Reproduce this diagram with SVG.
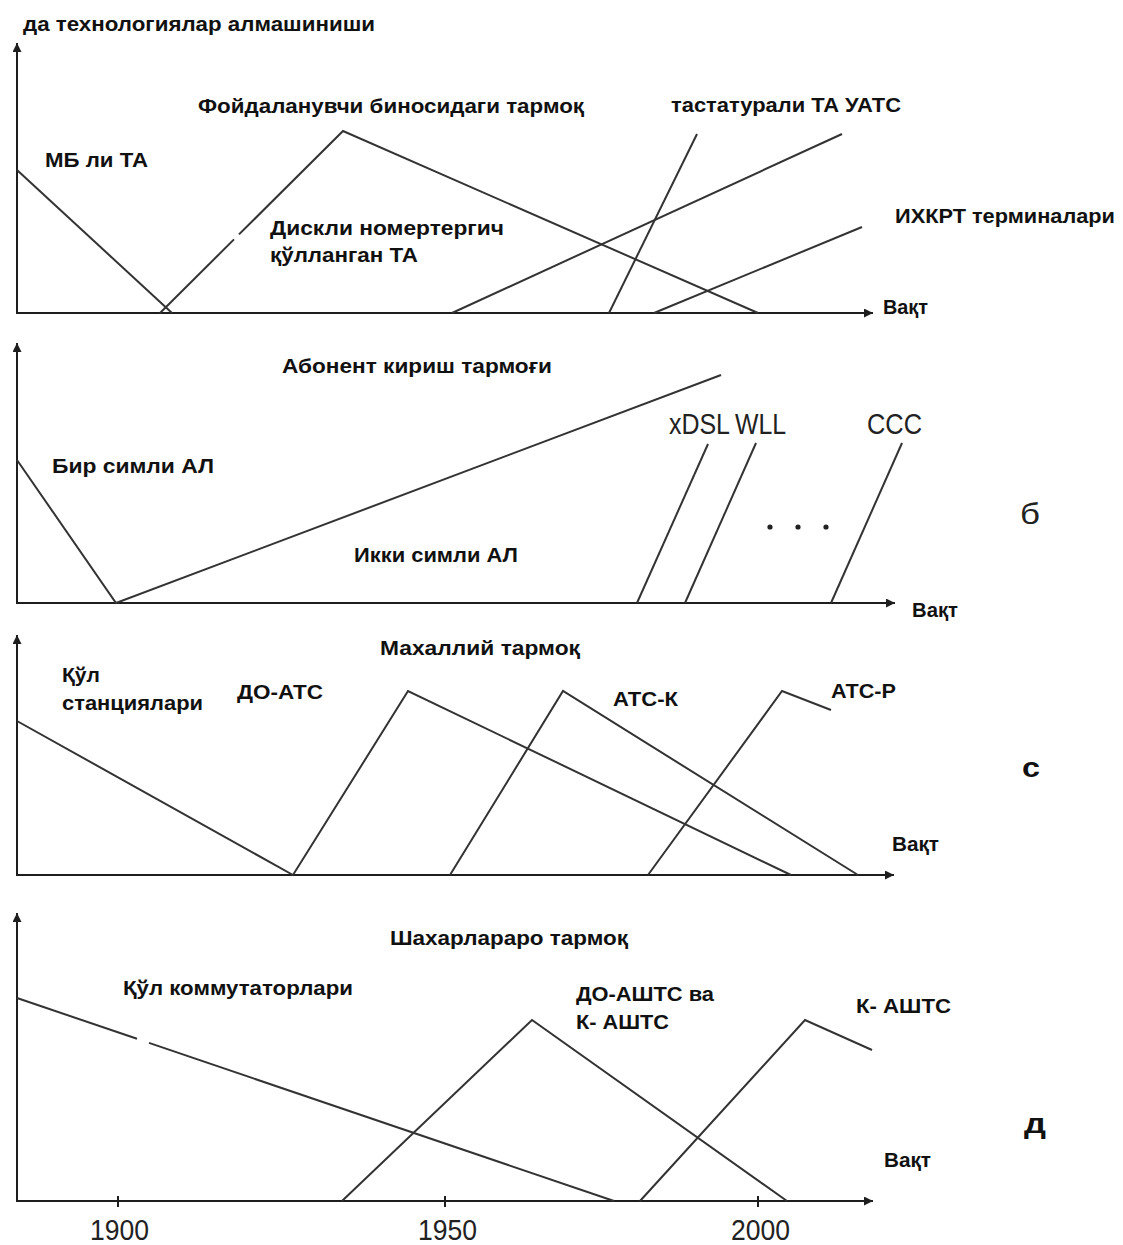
<svg xmlns="http://www.w3.org/2000/svg" width="1123" height="1245" viewBox="0 0 1123 1245">
<style>
.ax{stroke:#1e1e1e;stroke-width:2;fill:none}
.ln{stroke:#333;stroke-width:2;fill:none;stroke-linecap:butt}
.lb{font-family:"Liberation Sans",Arial,sans-serif;font-weight:bold;font-size:20px;fill:#111}
.nr{font-family:"Liberation Sans",Arial,sans-serif;font-weight:normal;font-size:29px;fill:#222}
.big{font-family:"Liberation Sans",Arial,sans-serif;font-weight:bold;font-size:28px;fill:#111}
</style>
<defs>
<marker id="arr" viewBox="0 0 10 10" refX="10" refY="5" markerWidth="12" markerHeight="9" markerUnits="userSpaceOnUse" orient="auto"><path d="M0,0 L10,5 L0,10 z" fill="#1e1e1e"/></marker>
</defs>
<rect width="1123" height="1245" fill="#fff"/>

<g id="panel-a">
<text class="lb" x="23" y="31" textLength="352" lengthAdjust="spacingAndGlyphs">да технологиялар алмашиниши</text>
<line class="ax" x1="17" y1="314" x2="17" y2="43" marker-end="url(#arr)"/>
<line class="ax" x1="16" y1="313" x2="873" y2="313" marker-end="url(#arr)"/>
<g id="a-lines">
<line class="ln" x1="17" y1="170" x2="172" y2="313"/>
<polyline class="ln" points="160,313 234,239.4"/>
<polyline class="ln" points="239,234.4 343,131 758,313"/>
<line class="ln" x1="452" y1="313" x2="842" y2="134"/>
<line class="ln" x1="609" y1="313" x2="697" y2="134"/>
<line class="ln" x1="654" y1="313" x2="862" y2="227"/>
</g>
<text class="lb" x="45" y="167" textLength="103" lengthAdjust="spacingAndGlyphs">МБ ли ТА</text>
<text class="lb" x="198" y="113" textLength="386" lengthAdjust="spacingAndGlyphs">Фойдаланувчи биносидаги тармоқ</text>
<text class="lb" x="270" y="235" textLength="234" lengthAdjust="spacingAndGlyphs">Дискли номертергич</text>
<text class="lb" x="270" y="262" textLength="148" lengthAdjust="spacingAndGlyphs">қўлланган ТА</text>
<text class="lb" x="671" y="112" textLength="230" lengthAdjust="spacingAndGlyphs">тастатурали ТА УАТС</text>
<text class="lb" x="895" y="223" textLength="220" lengthAdjust="spacingAndGlyphs">ИХКРТ терминалари</text>
<text class="lb" x="883" y="314" textLength="45" lengthAdjust="spacingAndGlyphs">Вақт</text>
</g>

<g id="panel-b">
<line class="ax" x1="17" y1="604" x2="17" y2="343" marker-end="url(#arr)"/>
<line class="ax" x1="16" y1="603" x2="895" y2="603" marker-end="url(#arr)"/>
<g id="b-lines">
<polyline class="ln" points="17,460 116,603 721,375"/>
<line class="ln" x1="637" y1="603" x2="708" y2="444"/>
<line class="ln" x1="685" y1="603" x2="756" y2="443"/>
<line class="ln" x1="831" y1="603" x2="902" y2="443"/>
</g>
<g id="b-dots" fill="#222">
<circle cx="770" cy="527" r="2.6"/>
<circle cx="798" cy="527" r="2.6"/>
<circle cx="826" cy="527" r="2.6"/>
</g>
<text class="lb" x="282" y="373" textLength="270" lengthAdjust="spacingAndGlyphs">Абонент кириш тармоғи</text>
<text class="lb" x="52" y="473" textLength="162" lengthAdjust="spacingAndGlyphs">Бир симли АЛ</text>
<text class="lb" x="354" y="562" textLength="164" lengthAdjust="spacingAndGlyphs">Икки симли АЛ</text>
<text class="nr" x="669" y="434" textLength="61" lengthAdjust="spacingAndGlyphs">xDSL</text>
<text class="nr" x="735" y="434" textLength="51" lengthAdjust="spacingAndGlyphs">WLL</text>
<text class="nr" x="867" y="434" textLength="55" lengthAdjust="spacingAndGlyphs">CCC</text>
<text class="nr" x="1020" y="524" font-size="34" textLength="20" lengthAdjust="spacingAndGlyphs">б</text>
<text class="lb" x="912" y="617" textLength="46" lengthAdjust="spacingAndGlyphs">Вақт</text>
</g>

<g id="panel-c">
<line class="ax" x1="17" y1="876" x2="17" y2="635" marker-end="url(#arr)"/>
<line class="ax" x1="16" y1="875" x2="894" y2="875" marker-end="url(#arr)"/>
<g id="c-lines">
<polyline class="ln" points="17,721 293,875 408,691 791,875"/>
<polyline class="ln" points="450,875 563,691 858,875"/>
<polyline class="ln" points="648,875 782,691 831,710"/>
</g>
<text class="lb" x="380" y="655" textLength="200" lengthAdjust="spacingAndGlyphs">Махаллий тармоқ</text>
<text class="lb" x="62" y="682" textLength="38" lengthAdjust="spacingAndGlyphs">Қўл</text>
<text class="lb" x="62" y="710" textLength="141" lengthAdjust="spacingAndGlyphs">станциялари</text>
<text class="lb" x="237" y="699" textLength="86" lengthAdjust="spacingAndGlyphs">ДО-АТС</text>
<text class="lb" x="613" y="706" textLength="65" lengthAdjust="spacingAndGlyphs">АТС-К</text>
<text class="lb" x="831" y="698" textLength="65" lengthAdjust="spacingAndGlyphs">АТС-Р</text>
<text class="big" x="1022" y="777" textLength="18" lengthAdjust="spacingAndGlyphs">с</text>
<text class="lb" x="892" y="851" textLength="47" lengthAdjust="spacingAndGlyphs">Вақт</text>
</g>

<g id="panel-d">
<line class="ax" x1="17" y1="1202" x2="17" y2="913" marker-end="url(#arr)"/>
<line class="ax" x1="16" y1="1201" x2="873" y2="1201" marker-end="url(#arr)"/>
<g id="d-ticks">
<line class="ax" x1="118" y1="1196" x2="118" y2="1207"/>
<line class="ax" x1="445" y1="1196" x2="445" y2="1207"/>
<line class="ax" x1="758" y1="1196" x2="758" y2="1207"/>
</g>
<g id="d-lines">
<polyline class="ln" points="17,998 137,1038.8"/>
<polyline class="ln" points="149,1042.9 614,1201"/>
<polyline class="ln" points="342,1201 532,1020 787,1201"/>
<polyline class="ln" points="640,1201 805,1020 872,1050"/>
</g>
<text class="lb" x="390" y="945" textLength="238" lengthAdjust="spacingAndGlyphs">Шахарлараро тармоқ</text>
<text class="lb" x="123" y="995" textLength="230" lengthAdjust="spacingAndGlyphs">Қўл коммутаторлари</text>
<text class="lb" x="576" y="1001" textLength="138" lengthAdjust="spacingAndGlyphs">ДО-АШТС ва</text>
<text class="lb" x="576" y="1029" textLength="93" lengthAdjust="spacingAndGlyphs">К- АШТС</text>
<text class="lb" x="856" y="1013" textLength="95" lengthAdjust="spacingAndGlyphs">К- АШТС</text>
<text class="big" x="1024" y="1133" textLength="22" lengthAdjust="spacingAndGlyphs">д</text>
<text class="lb" x="884" y="1167" textLength="47" lengthAdjust="spacingAndGlyphs">Вақт</text>
<text class="nr" x="90" y="1240" font-size="28" textLength="59" lengthAdjust="spacingAndGlyphs">1900</text>
<text class="nr" x="418" y="1240" font-size="28" textLength="59" lengthAdjust="spacingAndGlyphs">1950</text>
<text class="nr" x="731" y="1240" font-size="28" textLength="59" lengthAdjust="spacingAndGlyphs">2000</text>
</g>
</svg>
